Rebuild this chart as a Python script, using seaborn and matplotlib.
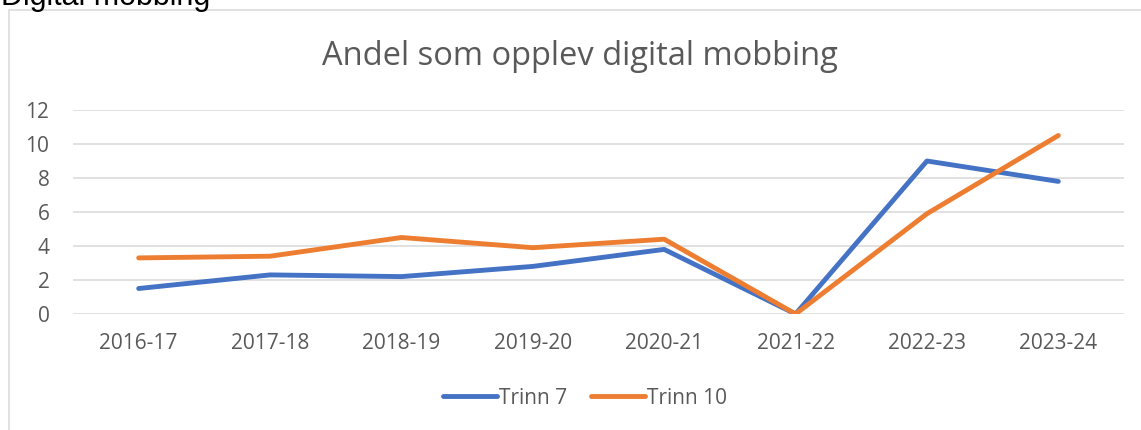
import matplotlib
matplotlib.use("Agg")
import matplotlib.pyplot as plt
import matplotlib.patches as mpatches
import pandas as pd
import seaborn as sns

# data
years = ["2016-17", "2017-18", "2018-19", "2019-20", "2020-21", "2021-22", "2022-23", "2023-24"]
trinn_7 = [1.5, 2.3, 2.2, 2.8, 3.8, 0.0, 9.0, 7.8]
trinn_10 = [3.3, 3.4, 4.5, 3.9, 4.4, 0.0, 5.9, 10.5]
series_names = ["Trinn 7", "Trinn 10"]
y_ticks = [0, 2, 4, 6, 8, 10, 12]

palette = {"Trinn 7": "#4472C4", "Trinn 10": "#ED7D31"}
grey_text = "#595959"
grid_col = "#D9D9D9"

df = pd.DataFrame({
    "year": years * 2,
    "value": trinn_7 + trinn_10,
    "series": [series_names[0]] * len(years) + [series_names[1]] * len(years),
})

sns.set_style("white")
plt.rcParams["font.family"] = ["Open Sans", "DejaVu Sans"]

W, H = 1141, 430
fig = plt.figure(figsize=(W / 100, H / 100), dpi=100)
ax = fig.add_axes([73 / W, 1 - 314 / H, (1124 - 73) / W, (314 - 110) / H])

sns.lineplot(data=df, x="year", y="value", hue="series", palette=palette,
             sort=False, linewidth=3.5, ax=ax, solid_capstyle="round")

ax.set_xlim(-0.5, len(years) - 0.5)
ax.set_ylim(0, 12)
ax.set_yticks(y_ticks)
ax.set_xlabel("")
ax.set_ylabel("")
for s in ax.spines.values():
    s.set_visible(False)
ax.yaxis.grid(True, color=grid_col, linewidth=1.1)
ax.set_axisbelow(True)
ax.tick_params(axis="both", length=0, labelsize=15, labelcolor=grey_text)
ax.tick_params(axis="y", pad=17)
ax.tick_params(axis="x", pad=14)

handles, labels = ax.get_legend_handles_labels()
ax.get_legend().remove()
for h in handles:
    h.set_linewidth(3.5)
    h.set_solid_capstyle("round")
fig.legend(handles, labels, loc="center", bbox_to_anchor=(585 / W, 1 - 398 / H),
           ncol=2, frameon=False, fontsize=15, labelcolor=grey_text,
           handlelength=2.6, handletextpad=0.1, columnspacing=1.1)

fig.text(580 / W, 1 - 65 / H, "Andel som opplev digital mobbing", ha="center",
         va="baseline", fontsize=23.5, color=grey_text)

# heading above the chart box, cut off at the top edge like in the source
fig.text(1 / W, 1 - 5 / H, "Digital mobbing", ha="left", va="baseline",
         fontsize=22, color="black", family=["Liberation Sans", "DejaVu Sans"])

# chart box border
box = mpatches.Rectangle((9 / W, -0.2), 1.2, 1.2 - 10 / H, transform=fig.transFigure,
                         fill=False, edgecolor=grid_col, linewidth=1.1, clip_on=False)
fig.add_artist(box)

fig.savefig("out.png", dpi=100)
